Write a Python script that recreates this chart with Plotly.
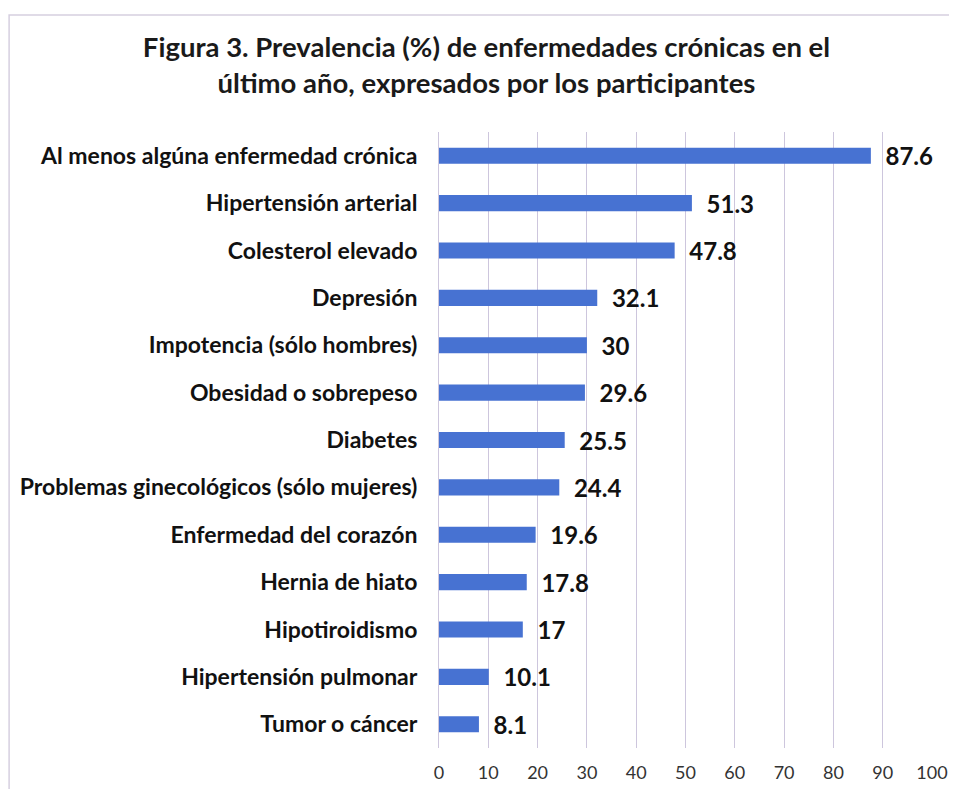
import plotly.graph_objects as go

categories = [
    "Al menos algúna enfermedad crónica",
    "Hipertensión arterial",
    "Colesterol elevado",
    "Depresión",
    "Impotencia (sólo hombres)",
    "Obesidad o sobrepeso",
    "Diabetes",
    "Problemas ginecológicos (sólo mujeres)",
    "Enfermedad del corazón",
    "Hernia de hiato",
    "Hipotiroidismo",
    "Hipertensión pulmonar",
    "Tumor o cáncer",
]
values = [87.6, 51.3, 47.8, 32.1, 30, 29.6, 25.5, 24.4, 19.6, 17.8, 17, 10.1, 8.1]
x_ticks = list(range(0, 101, 10))

FONT = "Lato"

fig = go.Figure()

fig.add_trace(
    go.Bar(
        x=values,
        y=categories,
        orientation="h",
        marker=dict(color="#4772d2", line=dict(width=0)),
        width=0.34,
        texttemplate="\u00a0\u00a0%{x}",
        textposition="outside",
        constraintext="none",
        textfont=dict(family=FONT, size=24, color="#111111", weight="bold"),
        cliponaxis=False,
    )
)

# chart frame
fig.add_shape(
    type="rect",
    xref="paper", yref="paper",
    x0=-0.872, x1=1.08, y0=-0.1, y1=1.19,
    line=dict(color="#d6cfe0", width=1.5),
    fillcolor="rgba(0,0,0,0)",
    layer="below",
)

fig.update_layout(
    width=957,
    height=789,
    paper_bgcolor="white",
    plot_bgcolor="white",
    showlegend=False,
    margin=dict(l=431, r=33, t=124, b=49, autoexpand=False),
    title=dict(
        text="Figura 3. Prevalencia (%) de enfermedades crónicas en el<br>último año, expresados por los participantes",
        x=0.5,
        xanchor="center",
        y=0.938,
        yanchor="top",
        font=dict(family=FONT, size=27.5, color="#1a1a1a", weight="bold"),
    ),
    xaxis=dict(
        range=[0, 100],
        tickvals=x_ticks,
        automargin=False,
        showgrid=True,
        gridcolor="#cdc6dd",
        gridwidth=1,
        zeroline=False,
        showline=False,
        ticks="",
        ticklabelstandoff=12,
        tickfont=dict(family=FONT, size=18, color="#333333"),
    ),
    yaxis=dict(
        autorange="reversed",
        automargin=False,
        showgrid=False,
        showline=True,
        linecolor="#cdc6dd",
        ticks="",
        ticklabelstandoff=16,
        tickfont=dict(family=FONT, size=23, color="#111111", weight="bold"),
    ),
)

fig.write_html("out.html")
